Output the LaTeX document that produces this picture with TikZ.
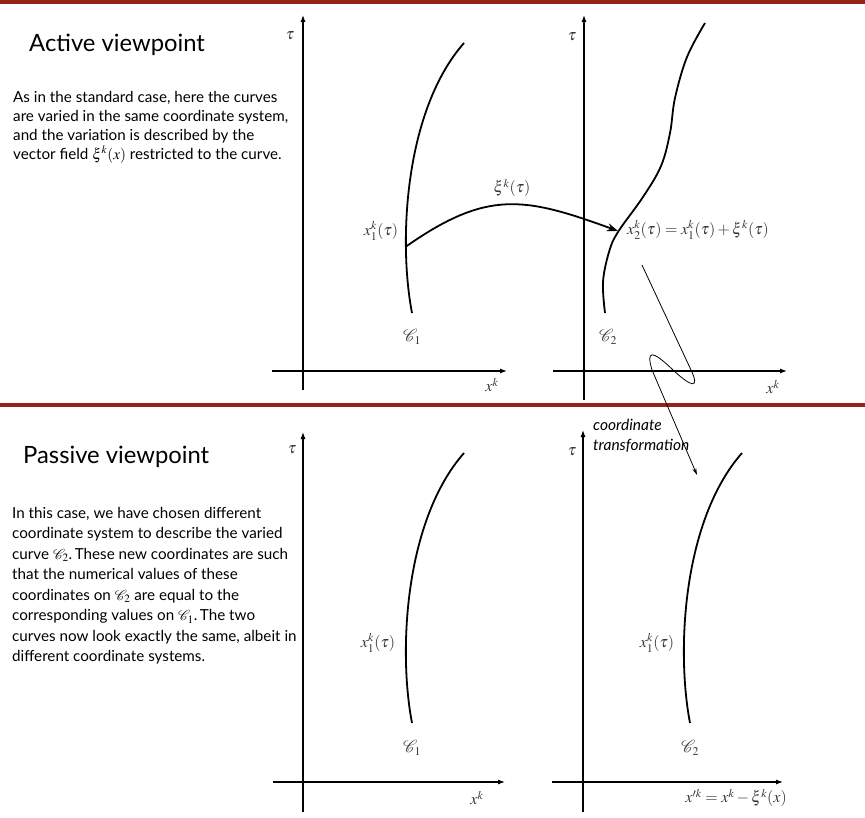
\documentclass[tikz,border=0pt]{standalone}
\usepackage{mathptmx}
\usepackage{mathrsfs}
\usepackage[no-math]{fontspec}
\setmainfont{Lato}
\usetikzlibrary{positioning, arrows.meta}
\definecolor{barred}{RGB}{150, 35, 25}
\definecolor{lblgray}{RGB}{55, 55, 55}

\begin{document}
\begin{tikzpicture}[
        x=1pt, y=-1pt,
        bar/.style={draw=barred, line width=4pt},
        axis/.style={-{Latex[length=7pt, width=5pt]}, line width=1.1pt},
        wline/.style={line width=1.8pt},
        warrow/.style={-{Stealth[length=11pt, width=8pt]}, line width=1.8pt},
        tarrow/.style={-{Stealth[length=7pt, width=4pt]}, line width=0.8pt},
        title/.style={font=\fontsize{23.8}{28}\selectfont, anchor=base west, inner sep=0pt},
        para/.style={font=\fontsize{15.2}{19}\selectfont, align=left, anchor=north west, inner sep=0pt},
        mlbl/.style={font=\fontsize{16}{18}\selectfont, inner sep=1pt, text=lblgray},
        tlbl/.style={font=\itshape\fontsize{15.5}{20}\selectfont, align=left, anchor=north west, inner sep=0pt}
    ]
    \useasboundingbox (0,0) rectangle (865,818);

    % separators
    \draw[bar] (0,2) -- (865,2);
    \draw[bar] (0,405) -- (865,405);

    % active viewpoint
    \node[title] (acttitle) at (29,52) {Active viewpoint};
    \node[para] (acttext) at (13,91)
        {As in the standard case, here the curves\\
         are varied in the same coordinate system,\\
         and the variation is described by the\\
         vector field $\xi^k(x)$ restricted to the curve.};

    \draw[axis] (303,390) -- (303,15);
    \draw[axis] (272,371) -- (507,371);
    \node[mlbl] (tau1) at (290,36) {$\tau$};
    \node[mlbl] (xk1) at (492,385) {$x^k$};
    \draw[wline] (412,313) .. controls (398,240) and (405,110) .. (464,43)
        coordinate[pos=0.26] (p1);
    \node[mlbl] (x1a) at (381,231) {$x_1^k(\tau)$};
    \node[mlbl] (c1a) at (412,337) {$\mathscr{C}_1$};

    \draw[axis] (584,400) -- (584,15);
    \draw[axis] (553,371) -- (787,371);
    \node[mlbl] (tau2) at (572,37) {$\tau$};
    \node[mlbl] (xk2) at (773,387) {$x^k$};
    \draw[wline] plot[smooth, tension=0.6] coordinates {(605,313) (603,282)
        (609,252) (618,232) (643,197) (661,166) (670,133) (675,98) (687,57) (705,23)};
    \coordinate (p2) at (618,231);
    \node[mlbl, anchor=west] (x2a) at (626,230)
        {$x_2^k(\tau) = x_1^k(\tau) + \xi^k(\tau)$};
    \node[mlbl] (c2a) at (608,337) {$\mathscr{C}_2$};

    \draw[warrow] (p1) to[out=35, in=160, looseness=1.2] (p2);
    \node[mlbl] (xi) at (512,188) {$\xi^k(\tau)$};

    % coordinate transformation
    \draw[tarrow] (642,265) -- (691,370) .. controls (700,389) and (692,388) .. (672,369)
        .. controls (652,350) and (646,350) .. (652,370) -- (697,475);
    \node[tlbl] (trans) at (593,419) {coordinate\\transformation};

    % passive viewpoint
    \node[title] (pastitle) at (23,463) {Passive viewpoint};
    \node[para, font=\fontsize{15.2}{20.5}\selectfont] (pastext) at (12,507)
        {In this case, we have chosen different\\
         coordinate system to describe the varied\\
         curve $\mathscr{C}_2$.\,These new coordinates are such\\
         that the numerical values of these\\
         coordinates on $\mathscr{C}_2$ are equal to the\\
         corresponding values on $\mathscr{C}_1$.\,The two\\
         curves now look exactly the same, albeit in\\
         different coordinate systems.};

    \draw[axis] (303,812) -- (303,432);
    \draw[axis] (273,782) -- (505,782);
    \node[mlbl] (tau3) at (292,450) {$\tau$};
    \node[mlbl] (xk3) at (477,798) {$x^k$};
    \draw[wline, shift={(0,410)}] (412,313) .. controls (398,240) and (405,110) .. (464,43);
    \node[mlbl] (x1b) at (378,643) {$x_1^k(\tau)$};
    \node[mlbl] (c1b) at (412,748) {$\mathscr{C}_1$};

    \draw[axis] (583,812) -- (583,430);
    \draw[axis] (552,782) -- (783,782);
    \node[mlbl] (tau4) at (572,452) {$\tau$};
    \node[mlbl, anchor=east] (xk4) at (788,798) {$x'^k = x^k - \xi^k(x)$};
    \draw[wline, shift={(278,410)}] (412,313) .. controls (398,240) and (405,110) .. (464,43);
    \node[mlbl] (x1c) at (657,643) {$x_1^k(\tau)$};
    \node[mlbl] (c2b) at (690,748) {$\mathscr{C}_2$};

\end{tikzpicture}
\end{document}
